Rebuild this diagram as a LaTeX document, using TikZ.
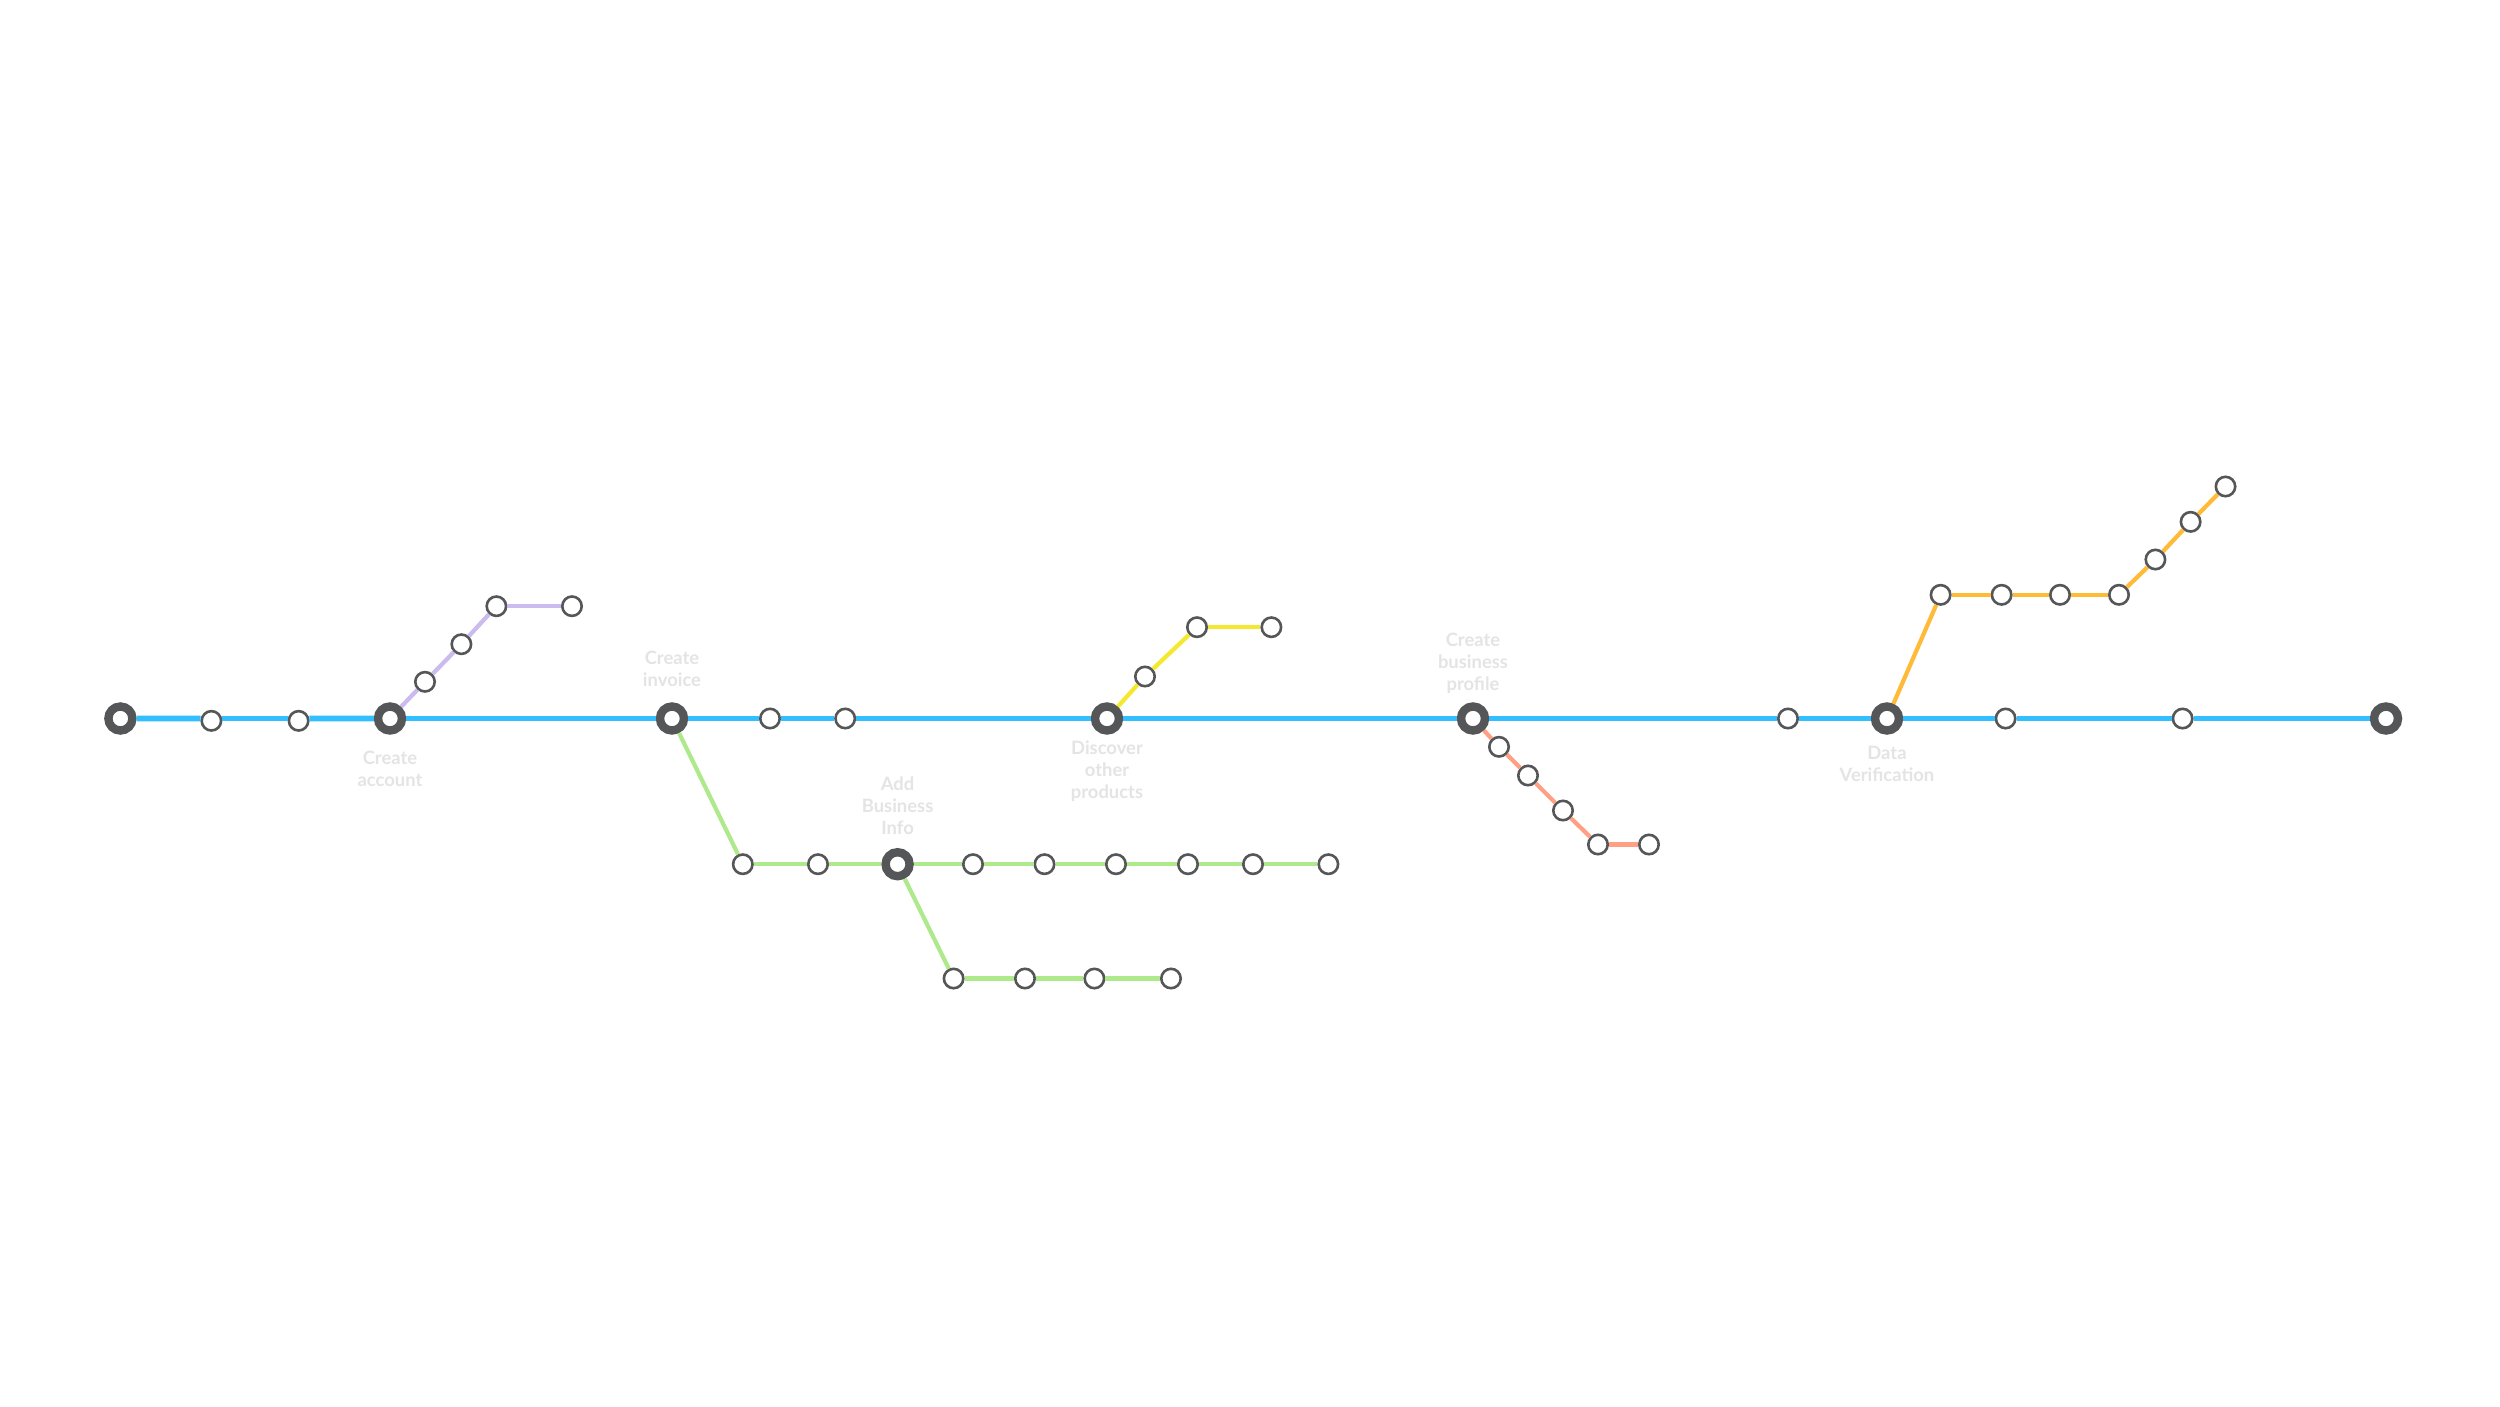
\documentclass[tikz,border=0pt]{standalone}
\usepackage{fontspec}
\setmainfont{Lato}
\definecolor{ink}{HTML}{555658}
\definecolor{lblue}{HTML}{33BEFF}
\definecolor{lgreen}{HTML}{AEE98C}
\definecolor{lpurple}{HTML}{CBBBEE}
\definecolor{lyellow}{HTML}{F5E92F}
\definecolor{lred}{HTML}{FFA084}
\definecolor{lorange}{HTML}{FFBB38}
\definecolor{lab}{HTML}{E4E4E5}
\tikzset{
  hub/.style={circle,draw=ink,fill=white,line width=8.4pt,minimum size=24pt,inner sep=0pt},
  halt/.style={circle,draw=ink,fill=white,line width=2.6pt,minimum size=19.4pt,inner sep=0pt},
  lbl/.style={text=lab,align=center,inner sep=0pt,font=\fontsize{18.4}{22}\selectfont\bfseries},
  mainline/.style={draw=lblue,line width=5.6pt},
  greenline/.style={draw=lgreen,line width=4.2pt},
  purpleline/.style={draw=lpurple,line width=4.2pt},
  yellowline/.style={draw=lyellow,line width=4.2pt},
  redline/.style={draw=lred,line width=4.2pt},
  orangeline/.style={draw=lorange,line width=4.2pt}
}
\begin{document}
\begin{tikzpicture}[x=1pt,y=-1pt]
\useasboundingbox[fill=white] (0,0) rectangle (2500,1406);
\begin{scope}[yshift=-0.5pt]
% hubs
\node[hub] (h1) at (120.4,718) {};
\node[hub] (h2) at (390,718) {};
\node[hub] (h3) at (672,718) {};
\node[hub] (h4) at (1107,718) {};
\node[hub] (h5) at (1473,718) {};
\node[hub] (h6) at (1887,718) {};
\node[hub] (h7) at (2386,718) {};
\node[hub] (g0) at (897.6,863.7) {};
% main line stops
\node[halt] (m1) at (211.4,720.3) {};
\node[halt] (m2) at (298.6,720.3) {};
\node[halt] (m3) at (770,718) {};
\node[halt] (m4) at (845.2,718) {};
\node[halt] (m5) at (1788,718) {};
\node[halt] (m6) at (2005.6,718) {};
\node[halt] (m7) at (2182.6,718) {};
% purple
\node[halt] (p1) at (425,681.3) {};
\node[halt] (p2) at (461.4,643.7) {};
\node[halt] (p3) at (496.4,605.7) {};
\node[halt] (p4) at (572,605.7) {};
% green upper
\node[halt] (g1) at (742.8,863.7) {};
\node[halt] (g2) at (818,863.7) {};
\node[halt] (g3) at (973,863.7) {};
\node[halt] (g4) at (1044.5,863.7) {};
\node[halt] (g5) at (1116,863.7) {};
\node[halt] (g6) at (1188,863.7) {};
\node[halt] (g7) at (1253,863.7) {};
\node[halt] (g8) at (1328.4,863.7) {};
% green lower
\node[halt] (k1) at (953.6,978) {};
\node[halt] (k2) at (1025,978) {};
\node[halt] (k3) at (1094.4,978) {};
\node[halt] (k4) at (1171,978) {};
% yellow
\node[halt] (y1) at (1145,676) {};
\node[halt] (y2) at (1197,626.7) {};
\node[halt] (y3) at (1271.4,626.7) {};
% red
\node[halt] (r1) at (1499,746.3) {};
\node[halt] (r2) at (1528,775) {};
\node[halt] (r3) at (1563,810) {};
\node[halt] (r4) at (1598,844) {};
\node[halt] (r5) at (1649,844) {};
% orange
\node[halt] (o1) at (1940.6,594.3) {};
\node[halt] (o2) at (2001.6,594.3) {};
\node[halt] (o3) at (2060,594.3) {};
\node[halt] (o4) at (2119,594.3) {};
\node[halt] (o5) at (2155.4,559) {};
\node[halt] (o6) at (2190.6,521.3) {};
\node[halt] (o7) at (2225.5,486) {};
% connectors
\draw[mainline] (h1) -- (m1.168);
\draw[mainline] (m1.12) -- (m2.168);
\draw[mainline] (m2.12) -- (h2);
\draw[mainline] (h2) -- (h3);
\draw[mainline] (h3) -- (m3);
\draw[mainline] (m3) -- (m4);
\draw[mainline] (m4) -- (h4);
\draw[mainline] (h4) -- (h5);
\draw[mainline] (h5) -- (m5);
\draw[mainline] (m5) -- (h6);
\draw[mainline] (h6) -- (m6);
\draw[mainline] (m6) -- (m7);
\draw[mainline] (m7) -- (h7);
\draw[purpleline] (h2) -- (p1);
\draw[purpleline] (p1) -- (p2);
\draw[purpleline] (p2) -- (p3);
\draw[purpleline] (p3) -- (p4);
\draw[greenline] (h3) -- (g1);
\draw[greenline] (g1) -- (g2);
\draw[greenline] (g2) -- (g0);
\draw[greenline] (g0) -- (g3);
\draw[greenline] (g3) -- (g4);
\draw[greenline] (g4) -- (g5);
\draw[greenline] (g5) -- (g6);
\draw[greenline] (g6) -- (g7);
\draw[greenline] (g7) -- (g8);
\draw[greenline] (g0) -- (k1);
\draw[greenline] (k1) -- (k2);
\draw[greenline] (k2) -- (k3);
\draw[greenline] (k3) -- (k4);
\draw[yellowline] (h4) -- (y1);
\draw[yellowline] (y1) -- (y2);
\draw[yellowline] (y2) -- (y3);
\draw[redline] (h5) -- (r1);
\draw[redline] (r1) -- (r2);
\draw[redline] (r2) -- (r3);
\draw[redline] (r3) -- (r4);
\draw[redline] (r4) -- (r5);
\draw[orangeline] (h6) -- (o1);
\draw[orangeline] (o1) -- (o2);
\draw[orangeline] (o2) -- (o3);
\draw[orangeline] (o3) -- (o4);
\draw[orangeline] (o4) -- (o5);
\draw[orangeline] (o5) -- (o6);
\draw[orangeline] (o6) -- (o7);
% labels
\node[lbl] (t1) at (390,768.5) {Create\\account};
\node[lbl] (t2) at (672,668.5) {Create\\invoice};
\node[lbl] (t3) at (897.6,805.5) {Add\\Business\\Info};
\node[lbl] (t4) at (1107,770.5) {Discover\\other\\products};
\node[lbl] (t5) at (1473,662.5) {Create\\business\\profile};
\node[lbl] (t6) at (1887,763.5) {Data\\Verification};
\end{scope}
\end{tikzpicture}
\end{document}
